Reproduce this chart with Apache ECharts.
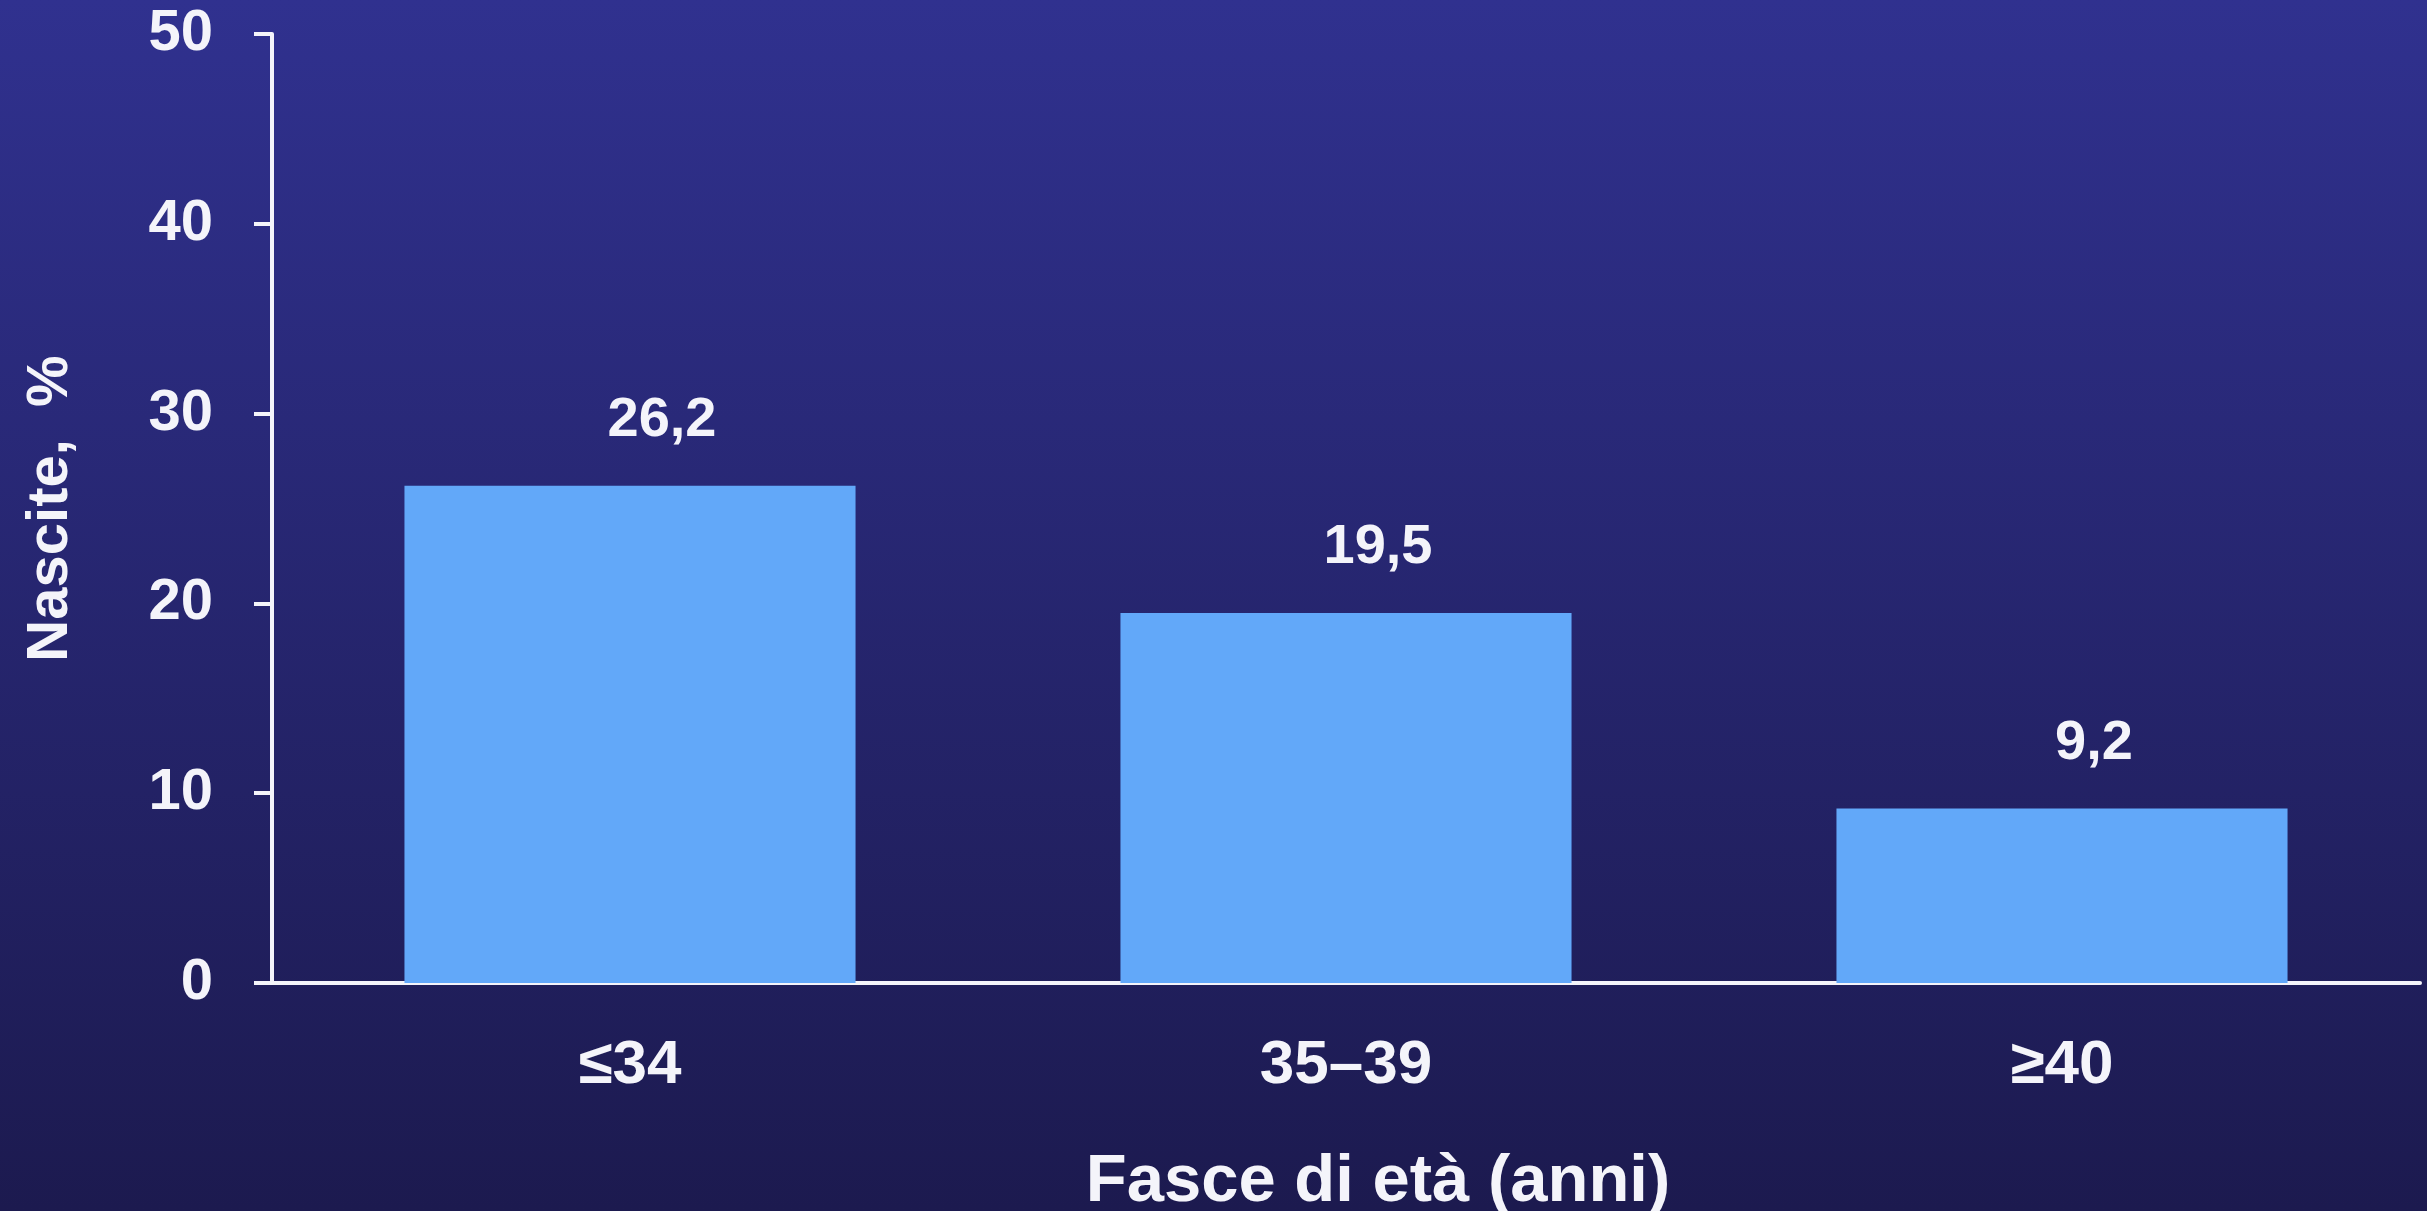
<!DOCTYPE html>
<html>
<head>
<meta charset="utf-8">
<script src="https://cdn.jsdelivr.net/npm/echarts@6/dist/echarts.min.js"></script>
<style>
  html, body { margin: 0; padding: 0; }
  #grafico { width: 2427px; height: 1211px; }
</style>
</head>
<body>
<div id="grafico"></div>
<script>
// dati
var categorie = ['≤34', '35–39', '≥40'];
var nascite = [26.2, 19.5, 9.2];
var etichette = ['26,2', '19,5', '9,2'];

var bianco = '#f4f4fa';
var font = '"Liberation Sans", Arial, sans-serif';

var chart = echarts.init(document.getElementById('grafico'));
var option = {
    backgroundColor: {
        type: 'linear', x: 0, y: 0, x2: 0, y2: 1,
        colorStops: [
            { offset: 0, color: '#30318f' },
            { offset: 1, color: '#1c1a4f' }
        ]
    },
    animation: false,
    grid: { left: 272, right: 7, top: 34, bottom: 228, outerBoundsMode: 'none', containLabel: false },
    xAxis: {
        type: 'category',
        data: categorie,
        name: 'Fasce di età (anni)',
        nameLocation: 'middle',
        nameGap: 166,
        nameTextStyle: { color: bianco, fontSize: 67, fontWeight: 'bold', fontFamily: font, padding: [0, 0, 0, 64] },
        axisLine: { lineStyle: { color: bianco, width: 4 } },
        axisTick: { show: false },
        axisLabel: { color: bianco, fontSize: 62, fontWeight: 'bold', fontFamily: font, margin: 52 }
    },
    yAxis: {
        type: 'value',
        min: 0, max: 50, interval: 10,
        name: 'Nascite,  %',
        nameLocation: 'middle',
        nameGap: 192,
        nameTextStyle: { color: bianco, fontSize: 58, fontWeight: 'bold', fontFamily: font },
        splitLine: { show: false },
        axisLine: { show: true, lineStyle: { color: bianco, width: 4 } },
        axisTick: { show: true, inside: false, length: 18, lineStyle: { color: bianco, width: 4 } },
        axisLabel: { color: bianco, fontSize: 58, fontWeight: 'bold', fontFamily: font, margin: 59 }
    },
    series: [{
        type: 'bar',
        data: nascite,
        barCategoryGap: '37%',
        itemStyle: { color: '#62a8f9' },
        label: {
            show: true,
            position: 'top',
            distance: 37,
            offset: [32, 0],
            color: bianco,
            fontSize: 56,
            fontWeight: 'bold',
            fontFamily: font,
            formatter: function (p) { return etichette[p.dataIndex]; }
        }
    }]
};
chart.setOption(option);
</script>
</body>
</html>
